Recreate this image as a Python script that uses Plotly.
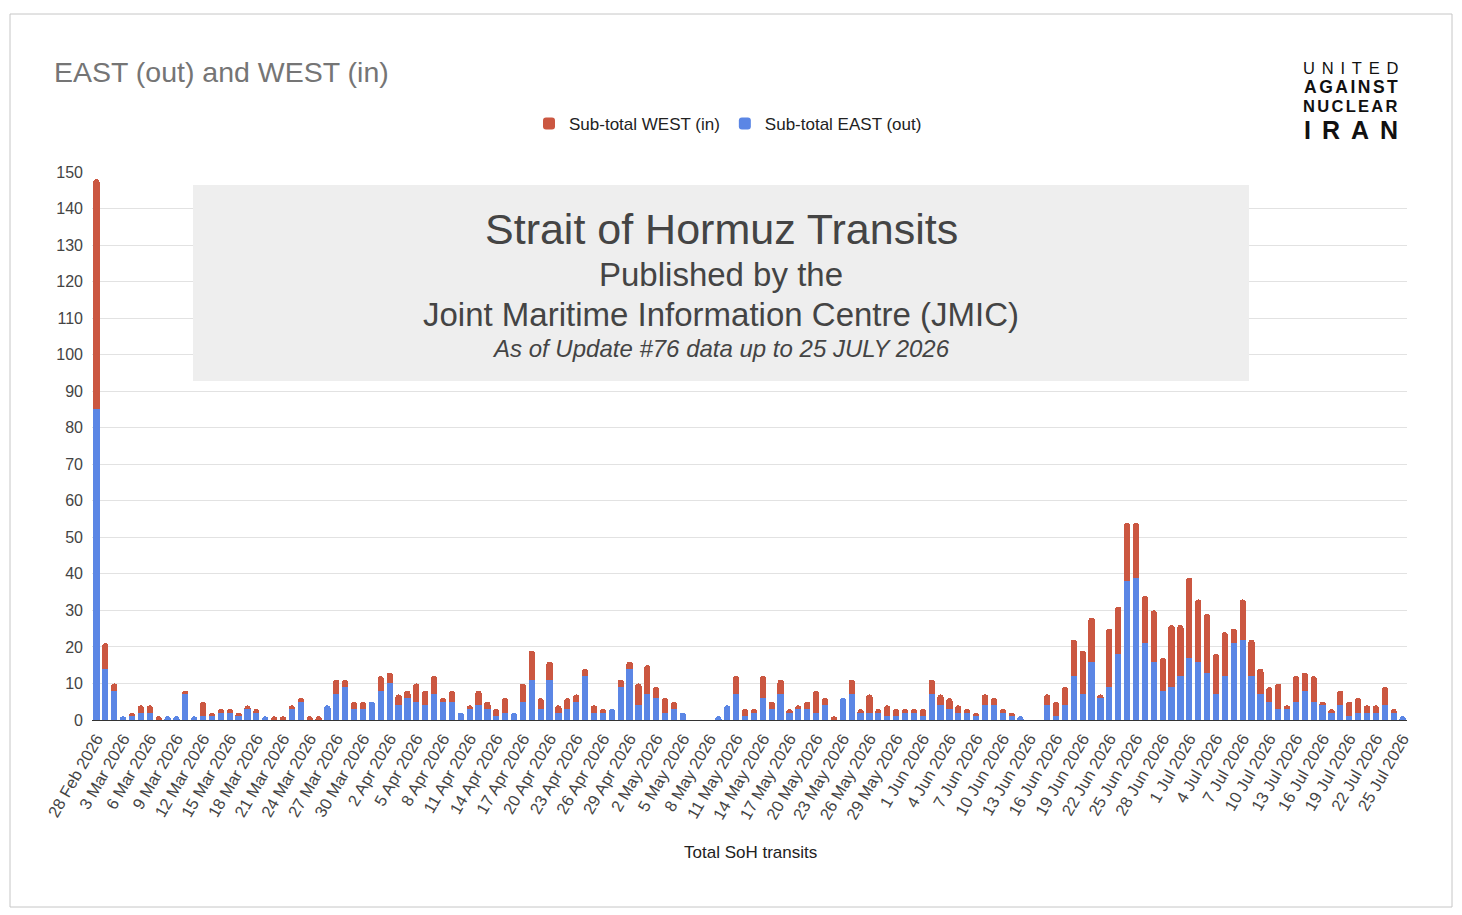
import plotly.graph_objects as go
import pandas as pd

# ---------------- data ----------------
start = pd.Timestamp("2026-02-28")
n_days = 148
dates = [start + pd.Timedelta(days=i) for i in range(n_days)]
categories = [f"{d.day} {d.strftime('%b')} {d.year}" for d in dates]
tick_labels = categories[::3]

east_out = [85, 14, 8, 1, 1, 2, 2, 0, 1, 1, 7, 1, 1, 1, 2, 2, 1, 3, 2, 1,
            0, 0, 3, 5, 0, 0, 4, 7, 9, 3, 3, 5, 8, 10, 4, 6, 5, 4, 7, 5,
            5, 2, 3, 4, 3, 1, 2, 2, 5, 11, 3, 11, 2, 3, 5, 12, 2, 2, 3, 9,
            14, 4, 7, 6, 2, 3, 2, 0, 0, 0, 1, 4, 7, 1, 2, 6, 3, 7, 2, 3,
            3, 2, 4, 0, 6, 7, 2, 2, 2, 1, 1, 2, 2, 1, 7, 4, 3, 2, 2, 1,
            4, 4, 2, 1, 1, 0, 0, 4, 1, 4, 12, 7, 16, 6, 9, 18, 38, 39, 21, 16,
            8, 9, 12, 17, 16, 13, 7, 12, 21, 22, 12, 7, 5, 3, 3, 5, 8, 5, 4, 2,
            4, 1, 2, 2, 2, 4, 2, 1]
west_in = [63, 7, 2, 0, 1, 2, 2, 1, 0, 0, 1, 0, 4, 1, 1, 1, 1, 1, 1, 0,
           1, 1, 1, 1, 1, 1, 0, 4, 2, 2, 2, 0, 4, 3, 3, 2, 5, 4, 5, 1,
           3, 0, 1, 4, 2, 2, 4, 0, 5, 8, 3, 5, 2, 3, 2, 2, 2, 1, 0, 2,
           2, 6, 8, 3, 4, 2, 0, 0, 0, 0, 0, 0, 5, 2, 1, 6, 2, 4, 1, 1,
           2, 6, 2, 1, 0, 4, 1, 5, 1, 3, 2, 1, 1, 2, 4, 3, 3, 2, 1, 1,
           3, 2, 1, 1, 0, 0, 0, 3, 4, 5, 10, 12, 12, 1, 16, 13, 16, 15, 13, 14,
           9, 17, 14, 22, 17, 16, 11, 12, 4, 11, 10, 7, 4, 7, 1, 7, 5, 7, 1, 1,
           4, 4, 4, 2, 2, 5, 1, 0]
assert len(east_out) == n_days and len(west_in) == n_days

y_ticks = list(range(0, 151, 10))

# ---------------- layout geometry (pixels) ----------------
W, H = 1462, 915
L, R, T, B = 92, 1407, 172, 720


def px(x):
    return (x - L) / (R - L)


def py(y):
    return (B - y) / (B - T)


BLUE = "#5b86e5"
RED = "#cb5741"
FONT = "Arial, Liberation Sans, sans-serif"
NARROW = "Liberation Sans Narrow, Arial Narrow, Arial, sans-serif"

fig = go.Figure()
fig.add_trace(go.Bar(x=categories, y=east_out, name="Sub-total EAST (out)",
                     marker=dict(color=BLUE, line=dict(width=0))))
fig.add_trace(go.Bar(x=categories, y=west_in, name="Sub-total WEST (in)",
                     marker=dict(color=RED, line=dict(width=0))))

shapes = []
# outer frame
shapes.append(dict(type="rect", xref="paper", yref="paper",
                   x0=px(10), x1=px(1452), y0=py(14), y1=py(907),
                   line=dict(color="#c6c6c6", width=1), fillcolor="rgba(0,0,0,0)",
                   layer="below"))
# logo background (covers top gridline)
shapes.append(dict(type="rect", xref="paper", yref="paper",
                   x0=px(1276), x1=px(1420), y0=py(50), y1=py(176),
                   line=dict(width=0), fillcolor="white", layer="above"))
# grey overlay box
shapes.append(dict(type="rect", xref="paper", yref="paper",
                   x0=px(193), x1=px(1249), y0=py(185), y1=py(381),
                   line=dict(width=0), fillcolor="#eeeeee", layer="above"))

annotations = []


def ann(text, x, y, size, color="#444444", xanchor="center", yanchor="middle",
        family=FONT, weight=None, style=None):
    f = dict(size=size, color=color, family=family)
    if weight is not None:
        f["weight"] = weight
    if style is not None:
        f["style"] = style
    annotations.append(dict(text=text, x=px(x), y=py(y), xref="paper", yref="paper",
                            xanchor=xanchor, yanchor=yanchor, showarrow=False, font=f,
                            borderpad=0))


ann("EAST (out) and WEST (in)", 53, 72, 28.5, color="#757575", xanchor="left")
ann("Strait of Hormuz Transits", 721, 229, 43, color="#444444")
ann("Published by the", 721, 274, 33, color="#444444")
ann("Joint Maritime Information Centre (JMIC)", 721, 314, 33, color="#444444")
ann("As of Update #76 data up to 25 JULY 2026", 721, 348, 24, color="#444444", style="italic")
ann("Total SoH transits", 750, 852, 17, color="#222222")

# logo (stacked lines, sized so that the lines do not collide)
ann("<span style='letter-spacing:6.8px'>UNITED</span>", 1354, 68, 16.5,
    color="#111111", weight=300)
ann("<span style='letter-spacing:2.5px'>AGAINST</span>", 1351.5, 87, 17.5,
    color="#111111", weight=700, family=NARROW)
ann("<span style='letter-spacing:2.3px'>NUCLEAR</span>", 1351.7, 106, 16.5,
    color="#111111", weight=700, family=NARROW)
ann("<span style='letter-spacing:11px'>IRAN</span>", 1356, 130, 25,
    color="#111111", weight=900)

fig.update_layout(
    width=W, height=H,
    margin=dict(l=L, r=W - R, t=T, b=H - B, autoexpand=False),
    paper_bgcolor="white", plot_bgcolor="white",
    barmode="stack", bargap=0.3, barcornerradius=3,
    font=dict(family=FONT, color="#444444", size=15),
    showlegend=True,
    legend=dict(orientation="h", x=px(728), y=py(124), xanchor="center", yanchor="middle",
                traceorder="reversed", font=dict(size=17, color="#222222"),
                itemsizing="constant", bgcolor="rgba(0,0,0,0)"),
    xaxis=dict(type="category", tickmode="array", tickvals=tick_labels, ticktext=tick_labels,
               tickangle=-60, tickfont=dict(size=16.5, color="#444444"), showgrid=False,
               ticks="", showline=False, automargin=False, range=[-0.5, n_days - 0.5],
               ticklabelstandoff=5),
    yaxis=dict(range=[0, 150], tickvals=y_ticks, showgrid=True, gridcolor="#e2e2e2",
               gridwidth=1, zeroline=True, zerolinecolor="#333333", zerolinewidth=1,
               tickfont=dict(size=16, color="#444444"), ticks="", automargin=False,
               ticklabelstandoff=8),
    shapes=shapes, annotations=annotations,
)

fig.write_html("out.html")
